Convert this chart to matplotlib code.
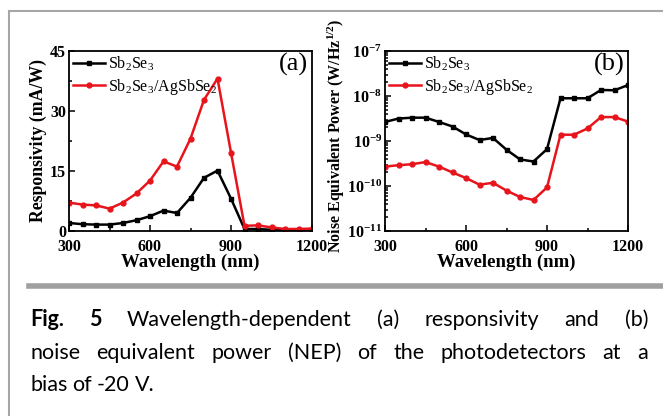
import numpy as np
import matplotlib
matplotlib.use('Agg')
import matplotlib.pyplot as plt
from matplotlib.lines import Line2D
from matplotlib.ticker import MultipleLocator, LogLocator, FixedLocator, NullFormatter

plt.rcParams['font.family'] = 'Liberation Serif'
plt.rcParams['mathtext.fontset'] = 'custom'
plt.rcParams['mathtext.rm'] = 'Liberation Serif'
plt.rcParams['mathtext.it'] = 'Liberation Serif:italic'
plt.rcParams['mathtext.bf'] = 'Liberation Serif:bold'

wavelength = [300, 350, 400, 450, 500, 550, 600, 650, 700, 750,
              800, 850, 900, 950, 1000, 1050, 1100, 1150, 1200]

# responsivity (mA/W)
resp_sb2se3 = [2.0, 1.7, 1.6, 1.6, 2.0, 2.7, 3.7, 5.1, 4.5, 8.3,
               13.3, 15.1, 8.1, 0.5, 0.5, 0.3, 0.2, 0.2, 0.2]
resp_hetero = [7.1, 6.6, 6.4, 5.6, 7.1, 9.4, 12.6, 17.4, 16.1, 23.1,
               32.8, 38.1, 19.6, 1.3, 1.4, 0.9, 0.5, 0.5, 0.6]

# NEP (W/Hz^1/2)
nep_sb2se3 = [2.65e-9, 3.15e-9, 3.3e-9, 3.3e-9, 2.65e-9, 2.1e-9, 1.4e-9, 1.05e-9, 1.17e-9, 6.4e-10,
              3.9e-10, 3.5e-10, 6.6e-10, 8.9e-9, 8.9e-9, 8.9e-9, 1.36e-8, 1.34e-8, 1.75e-8]
nep_hetero = [2.7e-10, 2.9e-10, 3.05e-10, 3.4e-10, 2.7e-10, 2.0e-10, 1.5e-10, 1.07e-10, 1.18e-10, 7.9e-11,
              5.7e-11, 4.9e-11, 9.3e-11, 1.38e-9, 1.38e-9, 1.9e-9, 3.4e-9, 3.4e-9, 2.7e-9]

labels = [r'Sb$_2$Se$_3$', r'Sb$_2$Se$_3$/AgSbSe$_2$']
colors = ['black', '#e8141c']
markers = ['s', 'o']

W, H = 663, 416
fig = plt.figure(figsize=(W / 100, H / 100), dpi=100)

def px_axes(x0, y0, x1, y1):
    return fig.add_axes([x0 / W, 1 - y1 / H, (x1 - x0) / W, (y1 - y0) / H])

ax1 = px_axes(69, 51, 312, 231)
ax2 = px_axes(385, 51, 628, 231)

for ax in (ax1, ax2):
    for s in ax.spines.values():
        s.set_linewidth(1.3)
    ax.tick_params(which='both', direction='in', top=False, right=False, width=1.1)
    ax.tick_params(which='major', length=4, labelsize=11.5, pad=2)
    ax.tick_params(axis='x', which='major', pad=6)
    ax.tick_params(which='minor', length=2)
    ax.set_xlim(300, 1200)
    ax.xaxis.set_major_locator(MultipleLocator(300))
    ax.xaxis.set_minor_locator(MultipleLocator(150))
    ax.set_xlabel('Wavelength (nm)', fontsize=13.5, fontweight='bold', labelpad=-1)
    for lab in ax.get_xticklabels() + ax.get_yticklabels():
        lab.set_fontweight('bold')

leg_kw = dict(loc='upper left', frameon=False, fontsize=11.5, handlelength=2.0,
              borderaxespad=0.05, borderpad=0.2, handletextpad=0.2, labelspacing=0.2)

# (a) responsivity
for y, lab, c, m in zip([resp_sb2se3, resp_hetero], labels, colors, markers):
    ax1.plot(wavelength, y, color=c, marker=m, markersize=3.5, linewidth=1.8, label=lab)
ax1.set_ylim(0, 45)
ax1.yaxis.set_major_locator(MultipleLocator(15))
ax1.yaxis.set_minor_locator(MultipleLocator(7.5))
ax1.set_ylabel('Responsivity (mA/W)', fontsize=12.8, fontweight='bold', labelpad=2)
for lab in ax1.get_yticklabels():
    lab.set_fontweight('bold')
    lab.set_verticalalignment('center_baseline')
ax1.legend(**leg_kw)
ax1.text(0.985, 0.99, '(a)', transform=ax1.transAxes, ha='right', va='top', fontsize=19)

# (b) NEP
for y, lab, c, m in zip([nep_sb2se3, nep_hetero], labels, colors, markers):
    ax2.plot(wavelength, y, color=c, marker=m, markersize=3.5, linewidth=1.8, label=lab)
ax2.set_yscale('log')
ax2.set_ylim(1e-11, 1e-7)
ax2.yaxis.set_major_locator(FixedLocator([1e-11, 1e-10, 1e-9, 1e-8, 1e-7]))
ax2.yaxis.set_minor_locator(LogLocator(base=10, subs=np.arange(2, 10)))
ax2.yaxis.set_minor_formatter(NullFormatter())
ax2.set_yticklabels([r'$\mathbf{10^{-11}}$', r'$\mathbf{10^{-10}}$', r'$\mathbf{10^{-9}}$',
                     r'$\mathbf{10^{-8}}$', r'$\mathbf{10^{-7}}$'])
ax2.set_ylabel(r'Noise Equivalent Power (W/Hz$^{\mathbf{1/2}}$)', fontsize=11.5,
               fontweight='bold')
ax2.yaxis.set_label_coords(-0.155, 0.53)
ax2.legend(**leg_kw)
ax2.text(0.985, 0.99, '(b)', transform=ax2.transAxes, ha='right', va='top', fontsize=19)

# page frame lines
def hline(x0, x1, y, lw, col):
    fig.add_artist(Line2D([x0 / W, x1 / W], [1 - y / H, 1 - y / H], lw=lw, color=col,
                          transform=fig.transFigure))

hline(9, 663, 11, 1.5, '#a6a6a6')
fig.add_artist(Line2D([9 / W, 9 / W], [1 - 11 / H, 0], lw=1.5, color='#a6a6a6',
                      transform=fig.transFigure))
hline(29, 663, 286, 4, '#a0a0a0')

# justified caption
cap_lines = [
    [('Fig.', 'bold'), ('5', 'bold'), ('Wavelength-dependent', 'normal'), ('(a)', 'normal'),
     ('responsivity', 'normal'), ('and', 'normal'), ('(b)', 'normal')],
    [(w, 'normal') for w in 'noise equivalent power (NEP) of the photodetectors at a'.split()],
    [(w, 'normal') for w in 'bias of -20 V.'.split()],
]
cap_y = [320, 353, 385]
x_left, x_right = 30, 648
renderer = fig.canvas.get_renderer()
for i, (words, yy) in enumerate(zip(cap_lines, cap_y)):
    texts = [fig.text(0, 1 - yy / H, w, fontsize=15.5, fontweight=wt, family='Lato',
                      va='center', ha='left') for w, wt in words]
    widths = [t.get_window_extent(renderer).width for t in texts]
    if i < len(cap_lines) - 1:
        gap = (x_right - x_left - sum(widths)) / (len(words) - 1)
    else:
        gap = 5.0
    x = x_left
    for t, wd in zip(texts, widths):
        t.set_x(x / W)
        x += wd + gap

fig.savefig('out.png', dpi=100)
